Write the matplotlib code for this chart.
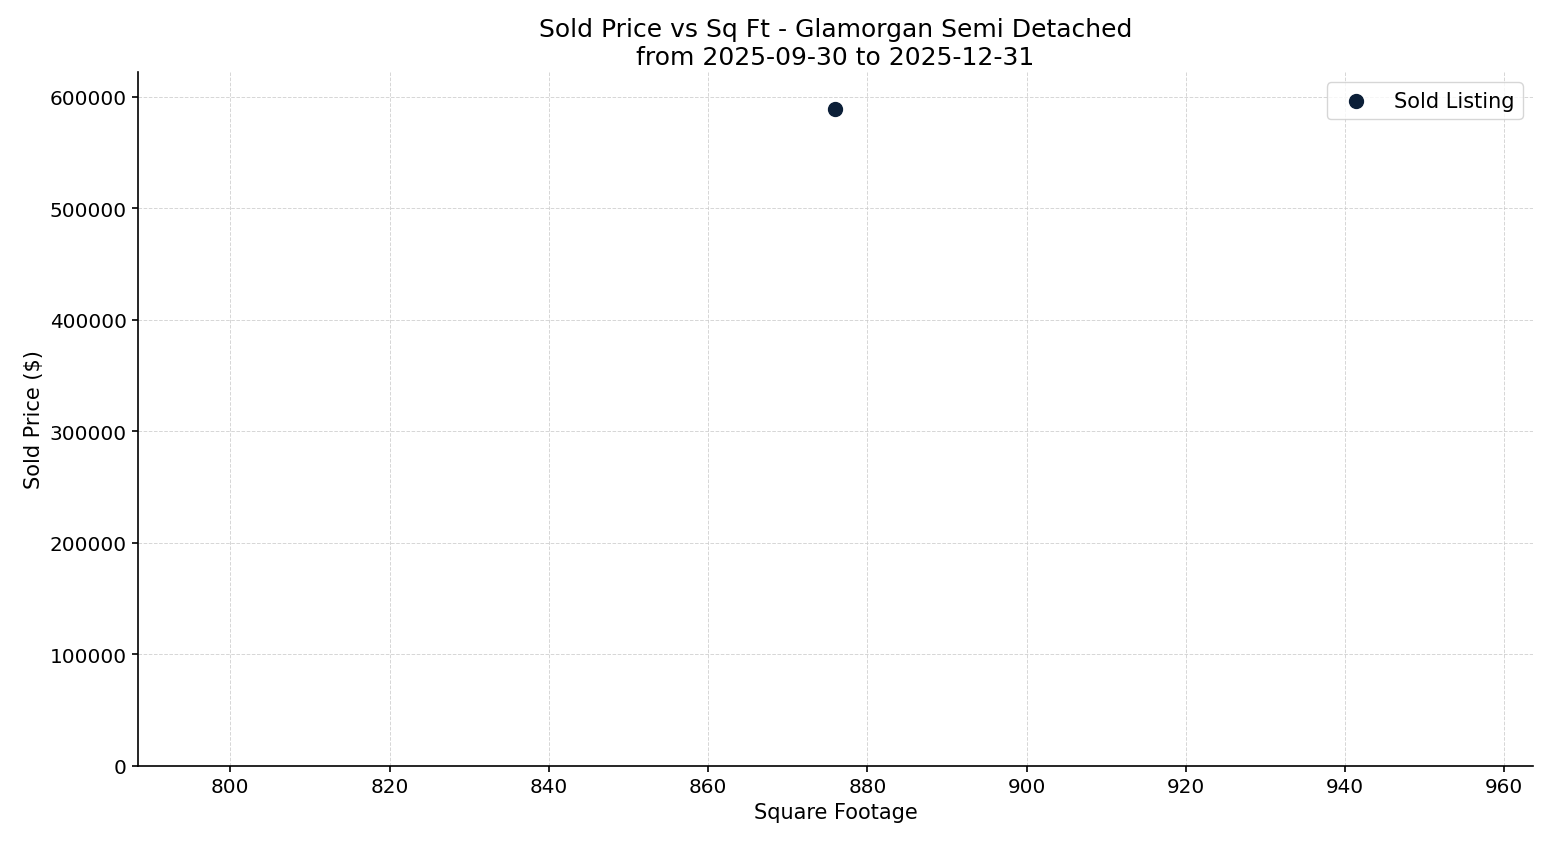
import matplotlib
matplotlib.use("Agg")
import matplotlib.pyplot as plt

sqft = [876]
price = [589000]

fig = plt.figure(figsize=(15.47, 8.45), dpi=100)
ax = fig.add_axes([138/1547, 1-767/845, (1533-138)/1547, (767-73)/845])
ax.scatter(sqft, price, s=100, color="#0c1f38", label="Sold Listing", zorder=3)
ax.set_xlim(876*0.9, 876*1.1)
ax.set_ylim(0, 622400)
ax.grid(True, linestyle="--", linewidth=0.7, color="#cccccc", alpha=0.8)
ax.spines["top"].set_visible(False)
ax.spines["right"].set_visible(False)
for s in ("left", "bottom"):
    ax.spines[s].set_linewidth(1.2)
ax.tick_params(labelsize=14.4, width=1.2, length=4.5)
ax.set_xlabel("Square Footage", fontsize=15)
ax.set_ylabel("Sold Price ($)", fontsize=15)
ax.set_title("Sold Price vs Sq Ft - Glamorgan Semi Detached\nfrom 2025-09-30 to 2025-12-31", fontsize=18)
ax.legend(loc="upper right", fontsize=15)
fig.savefig("out.png", dpi=100)
